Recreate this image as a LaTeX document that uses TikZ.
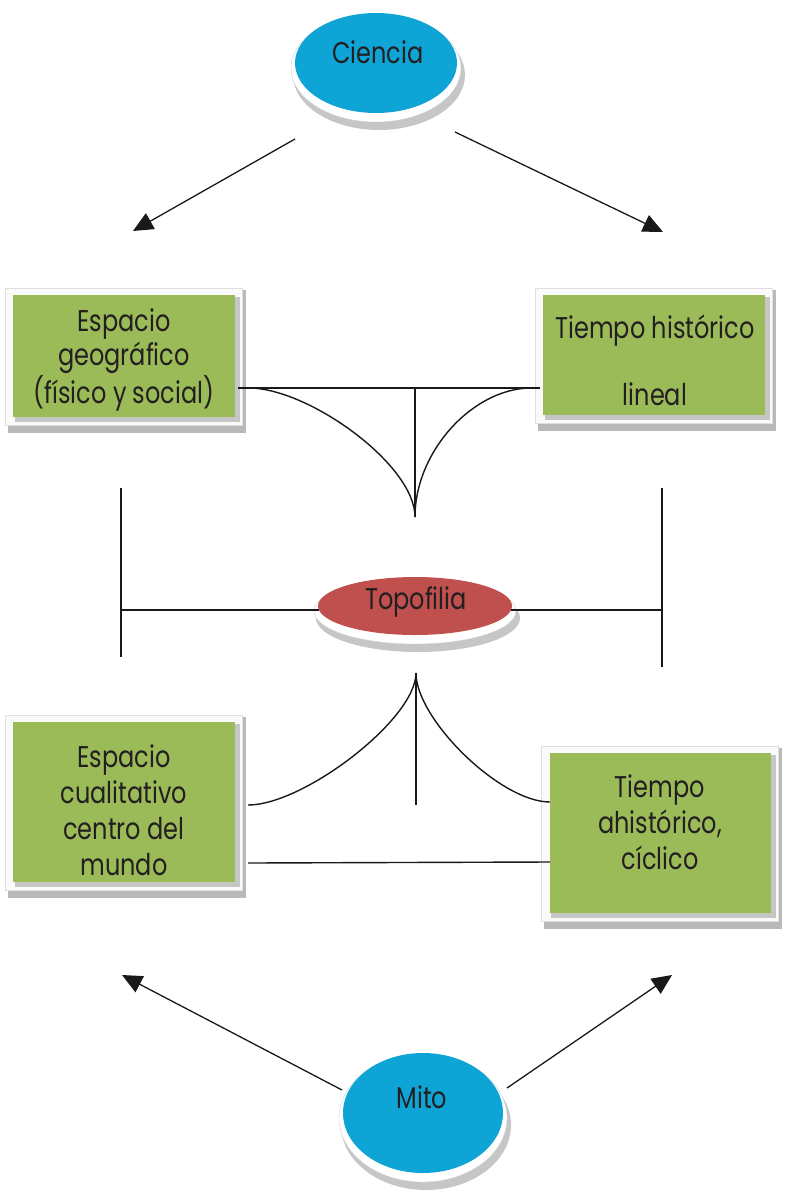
\documentclass[tikz,border=0pt]{standalone}
\usepackage{fontspec}
\setmainfont[FakeStretch=0.8]{Poppins}
\usetikzlibrary{shapes.geometric,arrows.meta,backgrounds,calc}
\definecolor{cblue}{RGB}{14,165,214}
\definecolor{cgreen}{RGB}{155,187,89}
\definecolor{cred}{RGB}{192,80,77}
\definecolor{ctext}{RGB}{35,31,32}
\newcommand{\boxdeco}[1]{%
  \fill[gray!55] ($(#1.north west)+(-5,-5)$) rectangle ($(#1.south east)+(11,16)$);
  \filldraw[fill=gray!4, draw=gray!25] ($(#1.north west)+(-8,-7)$) rectangle ($(#1.south east)+(7,8)$);
  \fill[gray!45] ($(#1.north west)+(2,2)$) rectangle ($(#1.south east)+(5,5)$);
}
\newcommand{\ovaldeco}[3]{%
  \fill[gray!45] ($(#1.center)+(3,12)$) ellipse [x radius=#2pt+5pt, y radius=#3pt+5pt];
  \filldraw[fill=white, draw=gray!35] ($(#1.center)+(0,5)$) ellipse [x radius=#2pt+4pt, y radius=#3pt+4pt];
}
\begin{document}
\begin{tikzpicture}[x=1pt,y=-1pt,
  lbl/.style={font=\fontsize{30}{34}\selectfont, text=ctext, align=center, inner sep=0pt},
  greenbox/.style={rectangle, fill=cgreen, inner sep=0pt, lbl},
  oval/.style={ellipse, inner sep=0pt, draw=none},
  link/.style={line width=1.4pt, black!90},
  arr/.style={line width=1.3pt, black!90, -{Triangle[length=20pt,width=18pt]}},
]
\useasboundingbox (0,0) rectangle (790,1192);

% ovals
\node[oval, fill=cblue, minimum width=162pt, minimum height=100pt] (ciencia) at (376,63) {};
\node[lbl] (cienciaT) at (378,52) {Ciencia};
\node[oval, fill=cred, minimum width=194pt, minimum height=58pt] (topo) at (415,606) {};
\node[lbl] (topoT) at (416,602) {Topofilia};
\node[oval, fill=cblue, minimum width=160pt, minimum height=120pt] (mito) at (423,1113) {};
\node[lbl] (mitoT) at (422,1097) {Mito};

% boxes
\node[greenbox, minimum width=222pt, minimum height=122pt] (b1) at (124,356) {};
\node[lbl] (b1T) at (124,360) {Espacio\\geográfico\\(físico y social)};
\node[greenbox, minimum width=222pt, minimum height=120pt] (b2) at (654,355) {};
\node[lbl] (b2T) at (655,360) {Tiempo histórico\\[33pt]lineal};
\node[greenbox, minimum width=222pt, minimum height=160pt] (b3) at (124,802) {};
\node[lbl, font=\fontsize{30}{36}\selectfont] (b3T) at (124,810) {Espacio\\cualitativo\\centro del\\mundo};
\node[greenbox, minimum width=221pt, minimum height=160pt] (b4) at (660,833) {};
\node[lbl, font=\fontsize{30}{36}\selectfont] (b4T) at (660,822) {Tiempo\\ahistórico,\\cíclico};

\begin{scope}[on background layer]
  \boxdeco{b1}
  \boxdeco{b2}
  \boxdeco{b3}
  \boxdeco{b4}
  \ovaldeco{ciencia}{81}{50}
  \ovaldeco{topo}{97}{29}
  \ovaldeco{mito}{80}{60}
\end{scope}

% arrows from Ciencia
\coordinate (cA) at (295,139);
\coordinate (cAt) at (133,231);
\coordinate (cB) at (455,132);
\coordinate (cBt) at (663,232);
\draw[arr] (cA) -- (cAt);
\draw[arr] (cB) -- (cBt);

% arrows from Mito
\coordinate (mA) at (342,1090);
\coordinate (mAt) at (122,975);
\coordinate (mB) at (507,1088);
\coordinate (mBt) at (672,975);
\draw[arr] (mA) -- (mAt);
\draw[arr] (mB) -- (mBt);

% upper connector
\coordinate (t1) at (238,388);
\coordinate (t2) at (540,388);
\coordinate (tm) at (415,388);
\coordinate (tc) at (415,517);
\draw[link] (t1) -- (t2);
\draw[link] (tm) -- (tc);
\draw[link] (250,388) .. controls (310,389) and (415,465) .. (tc);
\draw[link] (530,388) .. controls (472,389) and (415,452) .. (tc);

% side connectors to Topofilia
\coordinate (l1) at (121,488);
\coordinate (l2) at (121,657);
\coordinate (lm) at (121,610);
\coordinate (r1) at (662,488);
\coordinate (r2) at (662,667);
\coordinate (rm) at (662,610);
\draw[link] (l1) -- (l2);
\draw[link] (r1) -- (r2);
\draw[link] (lm) -- ($(topo.west)+(1,4)$);
\draw[link] ($(topo.east)+(-1,4)$) -- (rm);

% lower connector
\coordinate (bc) at (416,673);
\coordinate (bm) at (416,805);
\coordinate (bl) at (248,805);
\coordinate (br) at (550,802);
\coordinate (bl2) at (248,863);
\coordinate (br2) at (550,862);
\draw[link] (bc) -- (bm);
\draw[link] (bc) .. controls (416,719) and (304,805) .. (bl);
\draw[link] (bc) .. controls (416,719) and (500,802) .. (br);
\draw[link] (bl2) -- (br2);
\end{tikzpicture}
\end{document}
